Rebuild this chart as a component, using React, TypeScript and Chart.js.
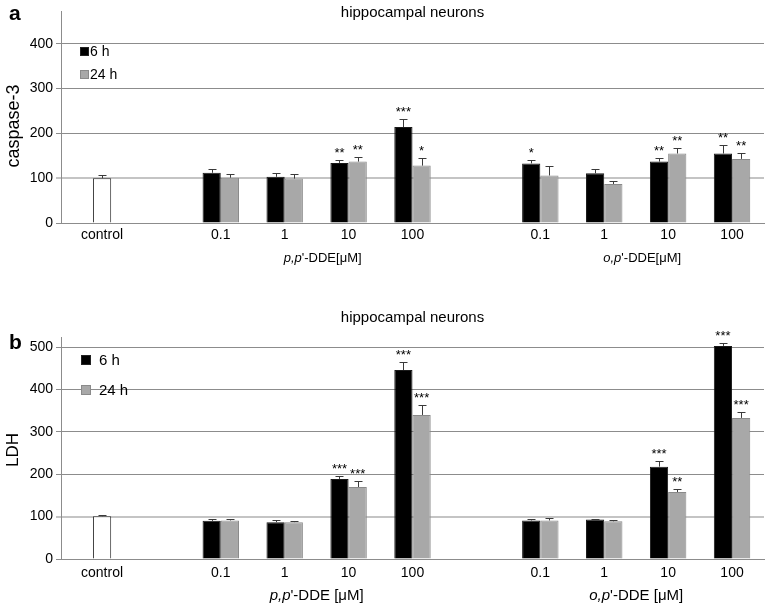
import React, { useEffect, useRef } from 'react';
import { Chart, registerables } from 'chart.js';

Chart.register(...registerables);

const FONT = "'Liberation Sans', Arial, sans-serif";

// ---------- data ----------
const categories = ['control', '', '0.1', '1', '10', '100', '', '0.1', '1', '10', '100'];
const seriesNames = ['6 h', '24 h'];
const yTicksA = [0, 100, 200, 300, 400];
const yTicksB = [0, 100, 200, 300, 400, 500];

const caspase6h = [null, null, 112, 103, 134, 214, null, 133, 111, 137, 155];
const caspase24h = [100, null, 101, 99, 137, 128, null, 106, 87, 155, 143];
const caspase6hErr = [0, 0, 9, 8, 7, 17, 0, 8, 9, 8, 19];
const caspase24hErr = [7, 0, 8, 10, 11, 16, 0, 22, 6, 12, 14];
const caspase6hStars = ['', '', '', '', '**', '***', '', '*', '', '**', '**'];
const caspase24hStars = ['', '', '', '', '**', '*', '', '', '', '**', '**'];

const ldh6h = [null, null, 90, 87, 189, 446, null, 91, 93, 218, 503];
const ldh24h = [101, null, 91, 87, 170, 340, null, 91, 89, 158, 333];
const ldh6hErr = [0, 0, 4, 5, 7, 19, 0, 3, 2, 13, 8];
const ldh24hErr = [4, 0, 3, 3, 15, 23, 0, 6, 4, 7, 14];
const ldh6hStars = ['', '', '', '', '***', '***', '', '', '', '***', '***'];
const ldh24hStars = ['', '', '', '', '***', '***', '', '', '', '**', '***'];

// ---------- styles ----------
const BLACK = '#000000';
const GREY = '#a8a8a8';
const GREY_BORDER = '#8a8a8a';
const GRID = '#8c8c8c';
const GRID_100 = '#c4c4c4';

interface PanelCfg {
  d6: (number | null)[];
  d24: (number | null)[];
  e6: number[];
  e24: number[];
  s6: string[];
  s24: string[];
  yTicks: number[];
  max: number;
  padTop: number;
  xHeight: number;
  title: string;
  titleY: number;
  letter: string;
  letterY: number;
  yTitle: string;
  yTitleX: number;
  yTitleY: number;
  yTitleSize: number;
  groupY: number;
  groupSize: number;
  groupSep: string;
  groupOffset: number;
  legendBoxX: number;
  legendBoxY: number[];
  legendBoxSize: number;
  legendTextX: number;
  legendSize: number;
  tickSize: number;
  tickPad: number;
}

function makePlugin(cfg: PanelCfg) {
  return {
    id: 'annot',
    afterDatasetsDraw(chart: any) {
      const ctx = chart.ctx;
      const ys = chart.scales.y;
      const errs = [cfg.e6, cfg.e24];
      const stars = [cfg.s6, cfg.s24];
      chart.data.datasets.forEach((ds: any, i: number) => {
        const meta = chart.getDatasetMeta(i);
        meta.data.forEach((bar: any, j: number) => {
          const v = ds.data[j];
          if (v == null) return;
          const topPx = Math.round(ys.getPixelForValue(v + errs[i][j])) + 0.5;
          const x = Math.round(bar.x) + 0.5;
          ctx.save();
          ctx.strokeStyle = '#3a3a3a';
          ctx.lineWidth = 1;
          ctx.beginPath();
          ctx.moveTo(x, bar.y);
          ctx.lineTo(x, topPx);
          ctx.moveTo(x - 4, topPx);
          ctx.lineTo(x + 4, topPx);
          ctx.stroke();
          if (stars[i][j]) {
            ctx.fillStyle = '#000';
            ctx.font = `13px ${FONT}`;
            ctx.textAlign = 'center';
            ctx.textBaseline = 'alphabetic';
            ctx.fillText(stars[i][j], bar.x, topPx - 4);
          }
          ctx.restore();
        });
      });
    },
    afterDraw(chart: any) {
      const ctx = chart.ctx;
      const area = chart.chartArea;
      const xs = chart.scales.x;
      ctx.save();
      ctx.fillStyle = '#000';
      // control label, centred under the control bar
      const ctrlBar: any = chart.getDatasetMeta(1).data[0];
      if (ctrlBar) {
        ctx.font = `${cfg.tickSize}px ${FONT}`;
        ctx.textAlign = 'center';
        ctx.textBaseline = 'middle';
        ctx.fillText(categories[0], ctrlBar.x, area.bottom + cfg.tickPad + cfg.tickSize * 0.6);
      }
      // title
      ctx.font = `15px ${FONT}`;
      ctx.textAlign = 'center';
      ctx.textBaseline = 'middle';
      ctx.fillText(cfg.title, (area.left + area.right) / 2, cfg.titleY);
      // panel letter
      ctx.font = `bold 21px ${FONT}`;
      ctx.textAlign = 'left';
      ctx.textBaseline = 'alphabetic';
      ctx.fillText(cfg.letter, 9, cfg.letterY);
      // y title
      ctx.save();
      ctx.translate(cfg.yTitleX, cfg.yTitleY);
      ctx.rotate(-Math.PI / 2);
      ctx.font = `${cfg.yTitleSize}px ${FONT}`;
      ctx.textAlign = 'center';
      ctx.textBaseline = 'middle';
      ctx.fillText(cfg.yTitle, 0, 0);
      ctx.restore();
      // group labels
      const groups = [
        { it: 'p,p', from: 2, to: 5 },
        { it: 'o,p', from: 7, to: 10 },
      ];
      groups.forEach((g) => {
        const cx = (xs.getPixelForValue(g.from) + xs.getPixelForValue(g.to)) / 2 + cfg.groupOffset;
        const rest = "'-DDE" + cfg.groupSep + '[\u03bcM]';
        ctx.font = `italic ${cfg.groupSize}px ${FONT}`;
        const w1 = ctx.measureText(g.it).width;
        ctx.font = `${cfg.groupSize}px ${FONT}`;
        const w2 = ctx.measureText(rest).width;
        const start = cx - (w1 + w2) / 2;
        ctx.textAlign = 'left';
        ctx.textBaseline = 'middle';
        ctx.font = `italic ${cfg.groupSize}px ${FONT}`;
        ctx.fillText(g.it, start, cfg.groupY);
        ctx.font = `${cfg.groupSize}px ${FONT}`;
        ctx.fillText(rest, start + w1, cfg.groupY);
      });
      // legend
      const cols = [BLACK, GREY];
      const borders = ['#222', GREY_BORDER];
      seriesNames.forEach((name, i) => {
        const by = cfg.legendBoxY[i];
        ctx.fillStyle = cols[i];
        ctx.fillRect(cfg.legendBoxX, by, cfg.legendBoxSize, cfg.legendBoxSize);
        ctx.strokeStyle = borders[i];
        ctx.lineWidth = 1;
        ctx.strokeRect(cfg.legendBoxX + 0.5, by + 0.5, cfg.legendBoxSize - 1, cfg.legendBoxSize - 1);
        ctx.fillStyle = '#000';
        ctx.font = `${cfg.legendSize}px ${FONT}`;
        ctx.textAlign = 'left';
        ctx.textBaseline = 'middle';
        ctx.fillText(name, cfg.legendTextX, by + cfg.legendBoxSize / 2 + 0.5);
      });
      ctx.restore();
    },
  };
}

function buildConfig(cfg: PanelCfg): any {
  const bg24 = cfg.d24.map((_, i) => (i === 0 ? '#ffffff' : GREY));
  const bd24 = cfg.d24.map((_, i) => (i === 0 ? '#333333' : GREY_BORDER));
  return {
    type: 'bar',
    data: {
      labels: categories,
      datasets: [
        {
          label: seriesNames[0],
          data: cfg.d6,
          backgroundColor: BLACK,
          borderColor: '#1a1a1a',
          borderWidth: 1,
          categoryPercentage: 0.57,
          barPercentage: 1.0,
        },
        {
          label: seriesNames[1],
          data: cfg.d24,
          backgroundColor: bg24,
          borderColor: bd24,
          borderWidth: 1,
          categoryPercentage: 0.57,
          barPercentage: 1.0,
        },
      ],
    },
    options: {
      animation: false,
      responsive: false,
      devicePixelRatio: 1,
      layout: { padding: { top: cfg.padTop, right: 3, left: 0, bottom: 0 } },
      plugins: {
        legend: { display: false },
        title: { display: false },
        tooltip: { enabled: false },
      },
      scales: {
        x: {
          grid: { display: false, drawTicks: false },
          border: { display: true, color: GRID, width: 1 },
          ticks: {
            color: '#000',
            font: { family: FONT, size: cfg.tickSize },
            padding: cfg.tickPad,
            maxRotation: 0,
            autoSkip: false,
            callback: (_v: any, idx: number) => (idx === 0 ? '' : categories[idx]),
          },
          afterFit: (s: any) => {
            s.height = cfg.xHeight;
          },
        },
        y: {
          min: 0,
          max: cfg.max,
          afterBuildTicks: (s: any) => {
            s.ticks = cfg.yTicks.map((v) => ({ value: v }));
          },
          grid: {
            color: (c: any) => (c.tick && c.tick.value === 100 ? GRID_100 : GRID),
            lineWidth: (c: any) => (c.tick && c.tick.value === 100 ? 2 : 1),
            tickLength: 5,
            drawTicks: true,
          },
          border: { display: true, color: GRID, width: 1 },
          ticks: {
            color: '#000',
            font: { family: FONT, size: 14 },
            padding: 3,
          },
          afterFit: (s: any) => {
            s.width = 61;
          },
        },
      },
    },
    plugins: [makePlugin(cfg)],
  };
}

const panelA: PanelCfg = {
  d6: caspase6h,
  d24: caspase24h,
  e6: caspase6hErr,
  e24: caspase24hErr,
  s6: caspase6hStars,
  s24: caspase24hStars,
  yTicks: yTicksA,
  max: 472,
  padTop: 7,
  xHeight: 77,
  title: 'hippocampal neurons',
  titleY: 13,
  letter: 'a',
  letterY: 20,
  yTitle: 'caspase-3',
  yTitleX: 14,
  yTitleY: 126,
  yTitleSize: 18,
  groupY: 258,
  groupSize: 13,
  groupSep: '',
  groupOffset: 6,
  legendBoxX: 80,
  legendBoxY: [47, 70],
  legendBoxSize: 9,
  legendTextX: 90,
  legendSize: 14,
  tickSize: 14,
  tickPad: 4,
};

const panelB: PanelCfg = {
  d6: ldh6h,
  d24: ldh24h,
  e6: ldh6hErr,
  e24: ldh24hErr,
  s6: ldh6hStars,
  s24: ldh24hStars,
  yTicks: yTicksB,
  max: 524,
  padTop: 37,
  xHeight: 47,
  title: 'hippocampal neurons',
  titleY: 18,
  letter: 'b',
  letterY: 49,
  yTitle: 'LDH',
  yTitleX: 13,
  yTitleY: 150,
  yTitleSize: 17,
  groupY: 296,
  groupSize: 15,
  groupSep: ' ',
  groupOffset: 0,
  legendBoxX: 81,
  legendBoxY: [55, 85],
  legendBoxSize: 10,
  legendTextX: 99,
  legendSize: 15,
  tickSize: 14,
  tickPad: 6,
};

function Panel({ cfg, width, height }: { cfg: PanelCfg; width: number; height: number }) {
  const ref = useRef<HTMLCanvasElement | null>(null);
  useEffect(() => {
    if (!ref.current) return;
    const chart = new Chart(ref.current, buildConfig(cfg));
    return () => chart.destroy();
  }, [cfg]);
  return <canvas ref={ref} width={width} height={height} style={{ display: 'block', width, height }} />;
}

export default function App() {
  return (
    <div style={{ position: 'absolute', left: 0, top: 0, width: 767, height: 606, background: '#fff' }}>
      <Panel cfg={panelA} width={767} height={300} />
      <Panel cfg={panelB} width={767} height={306} />
    </div>
  );
}
